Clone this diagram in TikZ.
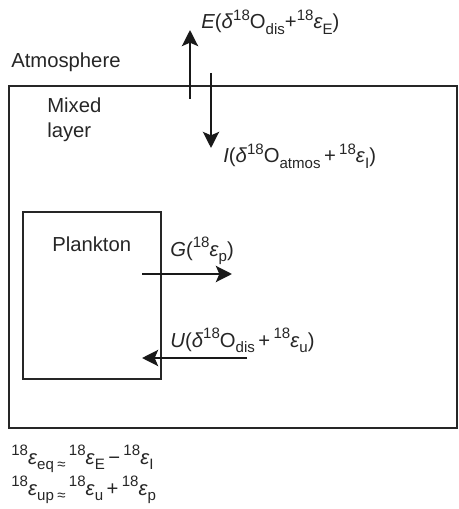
\documentclass[tikz,border=0pt]{standalone}
\usepackage{fontspec}
\setmainfont{Liberation Sans}
\usetikzlibrary{arrows.meta}
\newcommand\sps[1]{\raisebox{0.40em}{\fontsize{11.3}{11.3}\selectfont #1}}
\newcommand\sbs[1]{\raisebox{-0.26em}{\fontsize{11.3}{11.3}\selectfont #1}}
\newcommand\eps{\textit{ε}}
\begin{document}
\begin{tikzpicture}[x=0.75pt,y=-0.75pt,
  txt/.style={anchor=base west,inner sep=0pt,font=\fontsize{15.2}{18}\selectfont,text=black!85},
  box/.style={draw=black!85,line width=1.4pt,inner sep=0pt,outer sep=0pt,rectangle},
  flux/.style={draw=black!90,line width=2.2pt,-{Stealth[length=12pt,width=12pt,inset=2.5pt]}}]
\useasboundingbox (0,0) rectangle (458,509);
\node[box,minimum width=336pt,minimum height=256.5pt] (mixed) at (233,257) {};
\node[box,minimum width=103.5pt,minimum height=125.25pt] (plankton) at (92,295.5) {};
\node[txt] (atm) at (11,68) {Atmosphere};
\node[txt] (mix1) at (47,113) {Mixed};
\node[txt] (mix2) at (47,138) {layer};
\node[txt] (pl) at (52,251) {Plankton};
\coordinate (e0) at (190,99);
\coordinate (e1) at (190,30);
\draw[flux] (e0) -- (e1);
\coordinate (i0) at (211,73);
\coordinate (i1) at (211,148);
\draw[flux] (i0) -- (i1);
\coordinate (g0) at (142,274);
\coordinate (g1) at (232,274);
\draw[flux] (g0) -- (g1);
\coordinate (u0) at (247,358);
\coordinate (u1) at (142,358);
\draw[flux] (u0) -- (u1);
\node[txt] (el) at (201,29) {\textit{E}(\textit{δ}\sps{18}O\sbs{dis}+\sps{18}\eps\sbs{E})};
\node[txt] (il) at (223,163) {\textit{I}(\textit{δ}\sps{18}O\sbs{atmos}\,+\,\sps{18}\eps\sbs{I})};
\node[txt] (gl) at (170,256) {\textit{G}(\sps{18}\eps\sbs{p})};
\node[txt] (ul) at (170,347) {\textit{U}(\textit{δ}\sps{18}O\sbs{dis}\,+\,\sps{18}\eps\sbs{u})};
\node[txt] (eq1) at (11,464) {\sps{18}\eps\sbs{eq}\,\sbs{≈}\,\sps{18}\eps\sbs{E}\,−\,\sps{18}\eps\sbs{I}};
\node[txt] (eq2) at (11,495) {\sps{18}\eps\sbs{up}\,\sbs{≈}\,\sps{18}\eps\sbs{u}\,+\,\sps{18}\eps\sbs{p}};
\end{tikzpicture}
\end{document}
